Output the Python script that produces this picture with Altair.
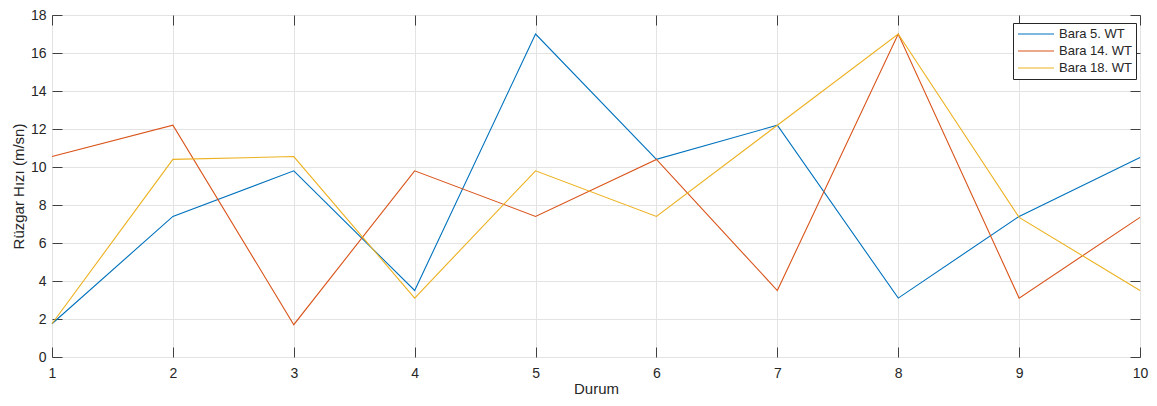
import altair as alt
import pandas as pd

durum = [1, 2, 3, 4, 5, 6, 7, 8, 9, 10]
series_names = ["Bara 5. WT", "Bara 14. WT", "Bara 18. WT"]
bara5 = [1.75, 7.4, 9.8, 3.5, 17.0, 10.4, 12.2, 3.1, 7.4, 10.5]
bara14 = [10.55, 12.2, 1.7, 9.8, 7.4, 10.4, 3.5, 17.0, 3.1, 7.35]
bara18 = [1.75, 10.4, 10.55, 3.1, 9.8, 7.4, 12.2, 17.0, 7.35, 3.5]
colors = ["#0072BD", "#D95319", "#EDB120"]
y_ticks = [0, 2, 4, 6, 8, 10, 12, 14, 16, 18]

rows = []
for name, vals in zip(series_names, [bara5, bara14, bara18]):
    for d, v in zip(durum, vals):
        rows.append({"Durum": d, "Hiz": v, "Seri": name})
df = pd.DataFrame(rows)

FONT = "Liberation Sans"
AX = "#404040"

x_main = alt.X(
    "Durum:Q",
    scale=alt.Scale(domain=[1, 10], nice=False, zero=False),
    axis=alt.Axis(
        values=durum, title="Durum", orient="bottom", offset=-10, tickSize=10,
        tickColor=AX, domain=False, grid=True, gridColor="#e3e3e3",
        labelFontSize=14, labelPadding=9, labelColor="#262626", labelFont=FONT,
        titleFont=FONT, titleFontSize=15, titleFontWeight="normal",
        titleColor="#262626", titlePadding=1, labelFlush=False,
    ),
)
y_main = alt.Y(
    "Hiz:Q",
    scale=alt.Scale(domain=[0, 18], nice=False),
    axis=alt.Axis(
        values=y_ticks, title="Rüzgar Hızı (m/sn)", orient="left", offset=-10,
        tickSize=10, tickColor=AX, domain=False, grid=True, gridColor="#e3e3e3",
        labelFontSize=14, labelPadding=6, labelColor="#262626", labelFont=FONT,
        titleFont=FONT, titleFontSize=15, titleFontWeight="normal",
        titleColor="#262626", titlePadding=4,
    ),
)

lines = alt.Chart(df).mark_line(strokeWidth=1.1).encode(
    x=x_main,
    y=y_main,
    color=alt.Color(
        "Seri:N",
        scale=alt.Scale(domain=series_names, range=colors),
        sort=series_names,
        legend=alt.Legend(
            title=None, orient="none", legendX=961, legendY=8,
            symbolType="stroke", symbolSize=1296, symbolStrokeWidth=1.1,
            clipHeight=14, labelFontSize=13, labelFont=FONT,
            labelColor="#262626", strokeColor="#262626", fillColor="white",
            padding=4, rowPadding=3, labelOffset=4,
        ),
    ),
)

frame = alt.Chart(df).mark_point(opacity=0).encode(
    x=alt.X(
        "Durum:Q",
        scale=alt.Scale(domain=[1, 10], nice=False, zero=False),
        axis=alt.Axis(values=durum, orient="top", offset=-10, tickSize=10,
                      tickColor=AX, domain=False, grid=False, labels=False,
                      title=None),
    ),
    y=alt.Y(
        "Hiz:Q",
        scale=alt.Scale(domain=[0, 18], nice=False),
        axis=alt.Axis(values=y_ticks, orient="right", offset=-10, tickSize=10,
                      tickColor=AX, domain=False, grid=False, labels=False,
                      title=None),
    ),
)

chart = (
    alt.layer(lines, frame)
    .resolve_axis(x="independent", y="independent")
    .properties(
        width=1088,
        height=342,
        autosize=alt.AutoSizeParams(type="none"),
        padding={"left": 44, "top": 7, "right": 9, "bottom": 41},
        background="white",
    )
    .configure_view(stroke=AX, strokeWidth=1)
)

chart.save("out.html", embed_options={"renderer": "svg", "actions": False})
